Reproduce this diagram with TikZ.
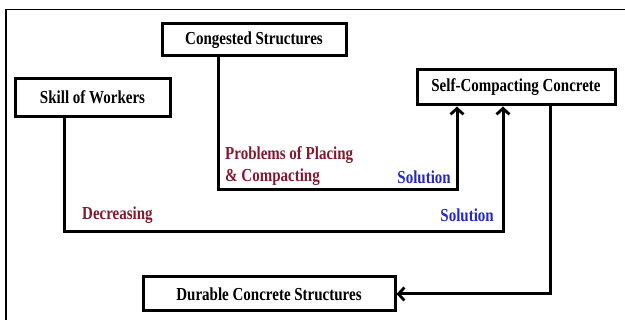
\documentclass[tikz,border=0pt]{standalone}
\usepackage{fontspec}
\usepackage{graphicx}
\setmainfont{Liberation Serif}
\usetikzlibrary{arrows.meta}
\definecolor{labred}{RGB}{128,28,48}
\definecolor{labblue}{RGB}{40,40,190}
\newcommand{\tallt}[1]{\scalebox{1}[1.22]{#1}}
\tikzset{
  box/.style={draw=black, line width=3pt, fill=white, inner sep=0pt, font=\fontsize{15}{18}\selectfont\bfseries},
  conn/.style={draw=black, line width=3pt},
  arr/.style={conn, -{Straight Barb[length=6pt,width=13pt,line width=2.8pt]}},
  redlab/.style={text=labred, font=\fontsize{15}{24}\selectfont\bfseries, inner sep=0pt},
  bluelab/.style={text=labblue, font=\fontsize{15}{18}\selectfont\bfseries, inner sep=0pt},
  frame/.style={draw=black, line width=1.3pt}
}
\begin{document}
\begin{tikzpicture}[x=1pt,y=-1pt]
\useasboundingbox (0,0) rectangle (625,320);
\fill[white] (0,0) rectangle (625,320);
% outer frame (left and top edges visible)
\coordinate (fb) at (6,320);
\coordinate (ft) at (6,9.5);
\coordinate (fr) at (625,9.5);
\draw[frame] (fb) -- (ft) -- (fr);
% boxes
\node[box, minimum width=184pt, minimum height=32pt] (cong) at (254,40) {\tallt{Congested Structures}};
\node[box, minimum width=155pt, minimum height=38pt] (skill) at (92.5,97.5) {\tallt{Skill of Workers}};
\node[box, minimum width=198pt, minimum height=35pt] (scc) at (516,87.5) {\tallt{Self-Compacting Concrete}};
\node[box, minimum width=252pt, minimum height=34pt] (dur) at (269,294) {\tallt{Durable Concrete Structures}};
% connector corners
\coordinate (k1) at (218,190);
\coordinate (k2) at (457,190);
\coordinate (s1) at (64,232);
\coordinate (s2) at (503,232);
\coordinate (d1) at (550,294);
\draw[arr] (k1 |- cong.south) -- (k1) -- (k2) -- (k2 |- scc.south);
\draw[arr] (s1 |- skill.south) -- (s1) -- (s2) -- (s2 |- scc.south);
\draw[arr] (d1 |- scc.south) -- (d1) -- (dur.east);
% labels
\node[redlab, anchor=west] (p1) at (225,155) {\tallt{Problems of Placing}};
\node[redlab, anchor=west] (p2) at (225,177) {\tallt{\& Compacting}};
\node[bluelab, anchor=east] (sol1) at (451,177) {\tallt{Solution}};
\node[redlab, anchor=west] (dec) at (82,215) {\tallt{Decreasing}};
\node[bluelab, anchor=east] (sol2) at (494,215) {\tallt{Solution}};
\end{tikzpicture}
\end{document}
